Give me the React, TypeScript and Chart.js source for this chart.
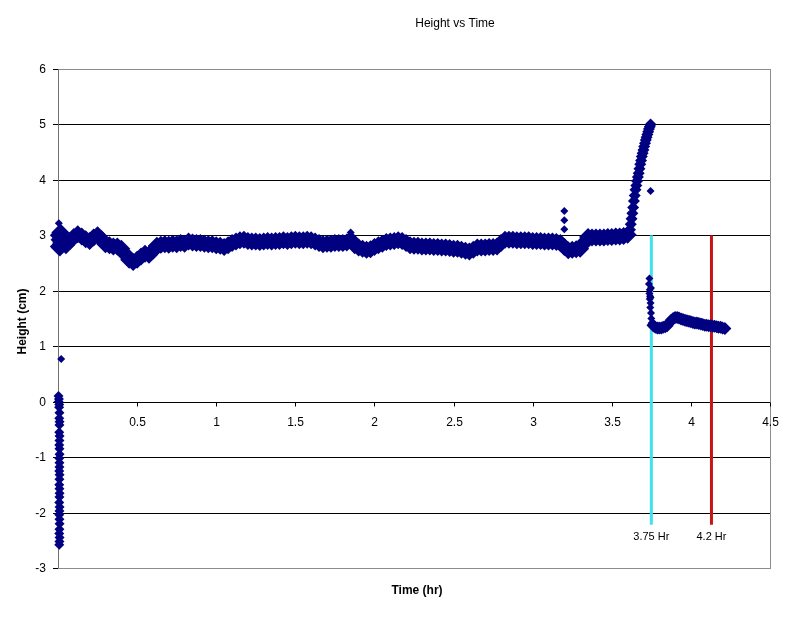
import React, { useEffect, useRef } from "react";
import { Chart, registerables } from "chart.js";

Chart.register(...registerables);

// ---- Data ----
const bandTime = [
  0.005, 0.005, 0.01, 0.012, 0.015, 0.02, 0.025, 0.05, 0.075, 0.1, 0.125, 0.15, 0.175, 0.2, 0.225, 0.25, 0.275, 0.3,
  0.325, 0.35, 0.375, 0.4, 0.425, 0.45, 0.475, 0.5, 0.525, 0.55, 0.575, 0.6, 0.625, 0.65, 0.675, 0.7, 0.725,
  0.75, 0.775, 0.8, 0.825, 0.85, 0.875, 0.9, 0.925, 0.95, 0.975, 1.0, 1.025, 1.05, 1.075, 1.1, 1.125, 1.15,
  1.175, 1.2, 1.225, 1.25, 1.275, 1.3, 1.325, 1.35, 1.375, 1.4, 1.425, 1.45, 1.475, 1.5, 1.525, 1.55, 1.575,
  1.6, 1.625, 1.65, 1.675, 1.7, 1.725, 1.75, 1.775, 1.8, 1.825, 1.85, 1.875, 1.9, 1.925, 1.95, 1.975, 2.0,
  2.025, 2.05, 2.075, 2.1, 2.125, 2.15, 2.175, 2.2, 2.225, 2.25, 2.275, 2.3, 2.325, 2.35, 2.375, 2.4, 2.425,
  2.45, 2.475, 2.5, 2.525, 2.55, 2.575, 2.6, 2.625, 2.65, 2.675, 2.7, 2.725, 2.75, 2.775, 2.8, 2.825, 2.85,
  2.875, 2.9, 2.925, 2.95, 2.975, 3.0, 3.025, 3.05, 3.075, 3.1, 3.125, 3.15, 3.175, 3.2, 3.225, 3.25, 3.275,
  3.3, 3.325, 3.35, 3.375, 3.4, 3.425, 3.45, 3.475, 3.5, 3.525, 3.55, 3.575, 3.6,
];
const bandHeight = [
  2.8, 3.0, 2.92, 2.78, 3.05, 2.86, 2.86, 2.82, 2.9, 2.97, 3.02, 2.98, 2.93, 2.9, 2.96, 3.0, 2.93, 2.84,
  2.82, 2.8, 2.8, 2.76, 2.66, 2.56, 2.52, 2.56, 2.62, 2.67, 2.65, 2.72, 2.81, 2.83, 2.84, 2.83, 2.85,
  2.84, 2.86, 2.85, 2.89, 2.87, 2.86, 2.86, 2.85, 2.84, 2.84, 2.82, 2.81, 2.79, 2.82, 2.86, 2.89, 2.91,
  2.92, 2.9, 2.89, 2.89, 2.88, 2.89, 2.9, 2.89, 2.9, 2.9, 2.91, 2.9, 2.91, 2.92, 2.91, 2.91, 2.92,
  2.91, 2.89, 2.86, 2.84, 2.85, 2.85, 2.86, 2.86, 2.86, 2.87, 2.92, 2.82, 2.78, 2.76, 2.74, 2.75, 2.79,
  2.82, 2.85, 2.88, 2.89, 2.9, 2.91, 2.9, 2.86, 2.82, 2.81, 2.81, 2.8, 2.8, 2.8, 2.79, 2.79, 2.78,
  2.78, 2.77, 2.76, 2.76, 2.74, 2.72, 2.71, 2.74, 2.78, 2.78, 2.78, 2.79, 2.79, 2.8, 2.86, 2.92, 2.92,
  2.92, 2.91, 2.91, 2.91, 2.91, 2.9, 2.9, 2.9, 2.89, 2.89, 2.89, 2.88, 2.86, 2.79, 2.73, 2.74, 2.75,
  2.76, 2.86, 2.97, 2.96, 2.96, 2.96, 2.96, 2.97, 2.97, 2.98, 2.98, 2.99, 3.01,
];

const riseTime = [
  3.61, 3.615, 3.62, 3.625, 3.63, 3.635, 3.64, 3.645, 3.65, 3.655, 3.66, 3.665, 3.67, 3.675, 3.68, 3.685,
  3.69, 3.695, 3.7, 3.705, 3.71, 3.715, 3.72, 3.725, 3.73, 3.735, 3.74, 3.745,
];
const riseHeight = [
  3.03, 3.1, 3.2, 3.3, 3.4, 3.5, 3.62, 3.72, 3.82, 3.9, 3.98, 4.05, 4.12, 4.2, 4.28, 4.35,
  4.42, 4.48, 4.54, 4.6, 4.66, 4.72, 4.77, 4.82, 4.87, 4.92, 4.96, 5.0,
];

const dropTime = [3.738, 3.735, 3.74, 3.738, 3.742, 3.74, 3.745, 3.743, 3.748, 3.75, 3.752, 3.748, 3.745];
const dropHeight = [2.22, 2.12, 2.02, 1.95, 1.9, 1.85, 1.78, 1.7, 1.6, 1.5, 1.42, 2.05, 1.88];

const tailTime = [
  3.76, 3.768, 3.775, 3.788, 3.8, 3.813, 3.825, 3.838, 3.85, 3.863, 3.875, 3.888, 3.9, 3.913, 3.925, 3.938,
  3.95, 3.963, 3.975, 3.988, 4.0, 4.013, 4.025, 4.038, 4.05, 4.063, 4.075, 4.088, 4.1, 4.113, 4.125, 4.138,
  4.15, 4.163, 4.175, 4.188, 4.2, 4.215,
];
const tailHeight = [
  1.38, 1.36, 1.34, 1.33, 1.33, 1.33, 1.34, 1.35, 1.37, 1.42, 1.47, 1.5, 1.52, 1.52, 1.51, 1.49,
  1.48, 1.47, 1.46, 1.45, 1.44, 1.43, 1.42, 1.42, 1.41, 1.4, 1.39, 1.38, 1.38, 1.37, 1.37, 1.36,
  1.36, 1.35, 1.34, 1.34, 1.33, 1.32,
];

const outlierTime = [0.005, 0.02, 3.2, 3.2, 3.2, 3.745, 1.85];
const outlierHeight = [3.22, 0.77, 3.44, 3.27, 3.11, 3.8, 3.05];

const startTime = [
  0.003, 0.006, 0.004, 0.008, 0.007, 0.009, 0.008, 0.01, 0.009, 0.008, 0.01, 0.009, 0.008, 0.009, 0.01, 0.008,
  0.009, 0.009, 0.008, 0.01, 0.009, 0.008, 0.009, 0.01, 0.009, 0.008, 0.01, 0.009, 0.008, 0.009, 0.01, 0.009,
  0.008, 0.01, 0.009, 0.008,
];
const startHeight = [
  0.1, 0.05, 0.0, -0.05, -0.1, -0.2, -0.3, -0.36, -0.42, -0.55, -0.62, -0.7, -0.78, -0.85, -0.95, -1.02,
  -1.1, -1.18, -1.25, -1.32, -1.4, -1.5, -1.57, -1.65, -1.72, -1.82, -1.9, -1.97, -2.04, -2.12, -2.2, -2.3,
  -2.38, -2.45, -2.52, -2.58,
];

const cyanLineTime = [3.75, 3.75];
const cyanLineHeight = [3, -2.22];
const redLineTime = [4.13, 4.13];
const redLineHeight = [3, -2.22];

const markerLabels = ["3.75 Hr", "4.2 Hr"];
const markerLabelTime = [3.75, 4.13];
const markerLabelHeight = -2.44;

const yTicks = [-3, -2, -1, 0, 1, 2, 3, 4, 5, 6];
const xTicks = [0.5, 1, 1.5, 2, 2.5, 3, 3.5, 4, 4.5];

const titleText = "Height vs Time";
const xTitle = "Time (hr)";
const yTitle = "Height (cm)";

const NAVY = "#000080";
const FONT = "'Liberation Sans', Arial, sans-serif";

const toPts = (xs: number[], ys: number[]) => xs.map((x, i) => ({ x, y: ys[i] }));

const scatterSet = (xs: number[], ys: number[], r: number) => ({
  data: toPts(xs, ys),
  backgroundColor: NAVY,
  borderColor: NAVY,
  pointStyle: "rectRot",
  pointRadius: r,
  borderWidth: 0,
  clip: 14,
});

export default function App() {
  const ref = useRef<HTMLCanvasElement | null>(null);

  useEffect(() => {
    document.body.style.margin = "0";
    const canvas = ref.current;
    if (!canvas) return;

    const decor = {
      id: "decor",
      beforeDraw(chart: any) {
        const ctx = chart.ctx;
        ctx.save();
        ctx.fillStyle = "#ffffff";
        ctx.fillRect(0, 0, chart.width, chart.height);
        ctx.restore();
      },
      beforeDatasetsDraw(chart: any) {
        const ctx = chart.ctx;
        const xs = chart.scales.x;
        const ys = chart.scales.y;
        const a = chart.chartArea;
        ctx.save();
        ctx.strokeStyle = "#000000";
        ctx.lineWidth = 1;
        yTicks.forEach((v) => {
          const py = Math.round(ys.getPixelForValue(v)) + 0.5;
          ctx.beginPath();
          ctx.moveTo(a.left, py);
          ctx.lineTo(a.right, py);
          ctx.stroke();
        });
        ctx.strokeStyle = "#8c8c8c";
        ctx.strokeRect(Math.round(a.left) + 0.5, Math.round(a.top) + 0.5, Math.round(a.right - a.left), Math.round(a.bottom - a.top));
        ctx.strokeStyle = "#707070";
        const lx = Math.round(a.left) + 0.5;
        ctx.beginPath();
        ctx.moveTo(lx, a.top);
        ctx.lineTo(lx, a.bottom);
        ctx.stroke();
        ctx.fillStyle = "#000000";
        ctx.font = `12px ${FONT}`;
        ctx.textAlign = "right";
        ctx.textBaseline = "middle";
        yTicks.forEach((v) => {
          const py = Math.round(ys.getPixelForValue(v)) + 0.5;
          ctx.strokeStyle = "#000000";
          ctx.beginPath();
          ctx.moveTo(a.left - 5, py);
          ctx.lineTo(a.left, py);
          ctx.stroke();
          ctx.fillText(String(v), a.left - 12, py);
        });
        const y0 = Math.round(ys.getPixelForValue(0)) + 0.5;
        ctx.textAlign = "center";
        ctx.textBaseline = "top";
        xTicks.forEach((v) => {
          const px = Math.round(xs.getPixelForValue(v)) + 0.5;
          ctx.beginPath();
          ctx.moveTo(px, y0);
          ctx.lineTo(px, y0 + 4);
          ctx.stroke();
          ctx.fillText(String(v), px, y0 + 14);
        });
        ctx.restore();
      },
      afterDatasetsDraw(chart: any) {
        const ctx = chart.ctx;
        const xs = chart.scales.x;
        const ys = chart.scales.y;
        const a = chart.chartArea;
        ctx.save();
        ctx.fillStyle = "#000000";
        ctx.font = `11px ${FONT}`;
        ctx.textAlign = "center";
        ctx.textBaseline = "middle";
        markerLabels.forEach((t, i) => {
          ctx.fillText(t, xs.getPixelForValue(markerLabelTime[i]), ys.getPixelForValue(markerLabelHeight));
        });
        ctx.font = `12px ${FONT}`;
        ctx.fillText(titleText, 455, 24);
        ctx.font = `bold 12px ${FONT}`;
        ctx.fillText(xTitle, 417, 591);
        ctx.translate(23, (a.top + a.bottom) / 2 + 3);
        ctx.rotate(-Math.PI / 2);
        ctx.fillText(yTitle, 0, 0);
        ctx.restore();
      },
    };

    const chart = new Chart(canvas, {
      type: "scatter",
      data: {
        datasets: [
          scatterSet(bandTime, bandHeight, 9),
          scatterSet(riseTime, riseHeight, 6),
          scatterSet(dropTime, dropHeight, 4),
          scatterSet(tailTime, tailHeight, 6.5),
          scatterSet(outlierTime, outlierHeight, 4),
          scatterSet(startTime, startHeight, 5),
          {
            data: toPts(cyanLineTime, cyanLineHeight),
            showLine: true,
            borderColor: "#3ee2f0",
            borderWidth: 3,
            pointRadius: 0,
          },
          {
            data: toPts(redLineTime, redLineHeight),
            showLine: true,
            borderColor: "#c81414",
            borderWidth: 3,
            pointRadius: 0,
          },
        ] as any,
      },
      options: {
        animation: false,
        responsive: false,
        devicePixelRatio: 1,
        layout: { padding: { left: 58, top: 69, right: 21, bottom: 65 } },
        plugins: { legend: { display: false }, tooltip: { enabled: false }, title: { display: false } },
        scales: {
          x: { type: "linear", min: 0, max: 4.5, display: false },
          y: { type: "linear", min: -3, max: 6, display: false },
        },
      },
      plugins: [decor],
    });
    return () => chart.destroy();
  }, []);

  return (
    <div style={{ width: 791, height: 633 }}>
      <canvas ref={ref} width={791} height={633} style={{ display: "block" }} />
    </div>
  );
}
